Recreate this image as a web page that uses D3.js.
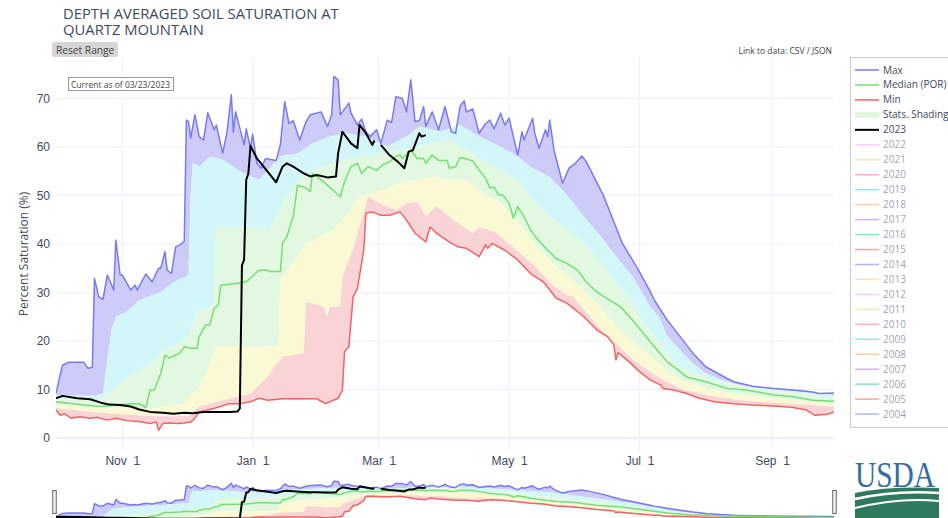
<!DOCTYPE html>
<html>
<head>
<meta charset="utf-8">
<script src="https://d3js.org/d3.v7.min.js"></script>
<style>
  body { margin: 0; background: #fff; }
  svg { display: block; font-family: "Open Sans", verdana, arial, sans-serif; }
  .xtick text { white-space: pre; }
</style>
</head>
<body>
<div id="chart"></div>
<script>
// day offsets from Oct 1 2022 (water year start), value = % saturation
const maxSeries = [[0,9.2],[3,15.0],[6,15.6],[13,15.6],[15,14.4],[17,14.6],[18,32.9],[20,29.1],[22,28.6],[24,33.6],[27,30.5],[28,40.8],[30,33.6],[31,33.6],[35,30.5],[37,31.5],[38,30.5],[42,33.8],[45,32.2],[48,35.0],[49,35.0],[51,38.4],[52,34.6],[54,33.9],[56,39.4],[58,39.8],[60,40.5],[61,65.5],[62,65.2],[63,61.8],[65,66.6],[67,62.1],[69,61.4],[71,67.0],[74,63.5],[75,64.5],[78,58.7],[80,63.0],[82,70.7],[83,63.0],[84,67.2],[86,63.9],[88,60.4],[89,63.7],[91,59.7],[92,62.6],[94,56.6],[96,55.6],[98,57.6],[103,57.2],[105,60.5],[107,69.3],[109,64.8],[111,65.4],[114,61.4],[117,65.2],[119,66.6],[124,67.2],[127,64.2],[129,66.6],[130,74.5],[132,73.8],[133,66.6],[134,67.2],[137,69.0],[138,67.0],[141,64.5],[143,65.7],[145,63.1],[147,62.1],[150,63.5],[152,60.7],[155,65.5],[157,65.0],[159,70.3],[162,70.0],[164,67.2],[166,73.8],[168,65.2],[170,65.4],[172,68.3],[173,64.2],[176,67.2],[179,63.5],[182,68.3],[185,63.1],[187,62.8],[189,68.3],[191,69.5],[192,67.2],[195,67.8],[198,62.8],[201,64.8],[203,65.5],[205,63.7],[208,66.9],[210,64.5],[212,65.9],[216,58.3],[218,63.1],[219,61.4],[223,65.9],[224,62.8],[226,59.7],[229,63.5],[230,62.0],[231,65.5],[233,59.3],[237,52.5],[240,55.6],[243,56.6],[246,58.1],[248,57.0],[256,50.1],[265,40.1],[272,35.0],[278,30.2],[280,28.4],[286,24.3],[292,20.9],[298,17.5],[304,14.7],[311,13.0],[317,11.6],[326,10.7],[336,10.2],[345,9.9],[354,9.5],[357,9.2],[364,9.3]];

const p90Series = [[0,8.8],[18,8.7],[22,9.2],[24,16],[26,22.3],[28,25],[33,26],[39,28.4],[49,30.1],[57,32.6],[62,33.5],[63,50],[64,56.6],[67,55.9],[72,58],[78,57.3],[85,55.2],[91,53.9],[95,53.2],[105,58],[113,58.7],[120,60.7],[128,62.1],[136,62.8],[145,62.1],[155,60],[164,62.1],[170,64.2],[180,63.1],[189,64.5],[198,62.1],[208,60],[216,58],[222,55.9],[231,53.8],[239,50.1],[247,45.6],[255,41.5],[262,37.4],[270,33.2],[278,27],[282,25],[286,21],[292,18.1],[298,15.4],[304,13.3],[311,12],[320,10.9],[336,10],[364,8.9]];

const p70Series = [[0,8.0],[20,7.8],[22,8.5],[28,10.6],[36,13],[44,15.4],[50,18],[56,19],[62,21],[66,26],[74,27.5],[75,43.5],[90,43.5],[100,43],[106,48.4],[114,53.2],[122,55.5],[130,56.6],[138,57.6],[153,58.7],[169,60],[184,61.4],[192,59.3],[200,57],[208,55.2],[216,53.2],[223,49],[231,45.6],[239,42.9],[247,40.1],[255,36],[262,31.9],[270,27.8],[274,24.3],[280,20.9],[286,17.5],[292,14.7],[301,13],[311,11.6],[323,10.6],[336,9.7],[364,8.5]];

const medianSeries = [[0,7.5],[13,6.8],[21,6.5],[28,6.8],[35,7.1],[39,7.1],[42,6.3],[44,9.9],[46,9.9],[49,13.3],[51,17.1],[53,16.5],[58,17.5],[60,18.8],[63,18.5],[66,18.5],[67,20.9],[70,23.3],[72,23.3],[74,26.7],[76,27.5],[77,31.5],[85,31.9],[89,32.2],[95,34.6],[99,34.6],[100,34.3],[105,34.3],[106,40.1],[108,41.5],[111,45.6],[113,52.1],[117,51.5],[119,50.8],[120,54.5],[122,53.9],[127,52.1],[133,49.7],[135,52.8],[138,55.9],[141,56.6],[143,54.5],[146,55.9],[150,55.2],[153,56.3],[156,56.9],[159,58.0],[161,58.3],[162,57.6],[166,59.3],[169,57.6],[172,57.6],[173,56.6],[176,58.3],[179,57.2],[183,57.2],[184,55.6],[187,55.9],[189,57.8],[191,57.6],[195,57.1],[198,55.2],[201,53.5],[203,51.5],[205,51.7],[207,50.1],[209,50.1],[212,48.4],[214,45.3],[216,47.7],[219,45.6],[222,42.9],[225,41.1],[230,38.7],[234,37.0],[239,36.0],[244,34.6],[248,32.2],[253,30.1],[259,28.4],[264,27.1],[269,24.7],[274,22.0],[280,18.8],[286,15.7],[292,13.7],[295,12.6],[304,11.6],[314,10.2],[323,9.9],[336,8.9],[345,8.5],[354,7.8],[364,7.6]];

const p30Series = [[0,6.8],[20,6.2],[44,6.0],[60,7.1],[67,10.6],[72,15.4],[75,18.8],[95,18.8],[104,19],[105,32.6],[117,40.1],[124,41.5],[130,42.9],[138,47],[142,49.7],[153,51.1],[161,52.5],[169,53.2],[177,53.8],[184,53.2],[192,53.2],[200,50.4],[208,48.4],[212,46.5],[216,44.5],[223,40.5],[231,36.5],[239,33.5],[247,30.5],[255,26.8],[262,23],[270,19.8],[278,17],[283,15],[286,13.8],[292,12],[304,10.2],[320,8.9],[336,8.2],[364,7.1]];

const p10Series = [[0,6.2],[20,5.2],[45,4.5],[62,4.5],[67,6.5],[80,8],[91,9.2],[99,12.6],[106,16.8],[116,17.5],[117,28.1],[125,27.1],[127,25],[128,27],[133,27.1],[134,33.2],[139,39],[142,43.5],[146,49.7],[153,48],[159,47],[164,48.4],[169,48.7],[173,45.6],[178,47.7],[186,44.9],[195,42.2],[198,43.5],[205,42.5],[208,41.5],[217,38.1],[224,35.5],[231,32],[239,29.5],[242,29.1],[247,26.4],[254,22.9],[262,19.5],[270,16.1],[278,13.7],[283,12.3],[292,10.2],[304,8.9],[320,7.8],[336,7.3],[364,6.5]];

const minSeries = [[0,5.8],[2,4.7],[4,5.0],[7,4.1],[11,4.4],[16,4.1],[19,4.3],[24,3.7],[28,4.1],[33,3.6],[39,3.4],[44,3.0],[47,3.3],[48,1.6],[50,3.0],[53,3.1],[57,3.0],[60,3.1],[63,3.3],[65,4.1],[67,5.4],[72,5.9],[77,6.5],[81,7.1],[86,7.1],[91,7.5],[95,8.2],[99,7.8],[106,8.1],[114,8.1],[122,8.1],[126,7.1],[132,8.2],[134,9.9],[135,17.8],[137,18.8],[139,29.1],[141,30.8],[144,38.7],[145,46.3],[148,46.6],[152,45.9],[156,45.9],[161,46.6],[164,44.9],[168,42.2],[173,40.4],[175,43.5],[178,42.2],[184,40.4],[188,39.4],[192,39.1],[198,37.4],[201,39.8],[202,39.1],[204,40.1],[210,38.7],[216,36.7],[222,33.9],[228,32.2],[234,28.8],[239,27.8],[247,25.0],[253,22.3],[258,20.9],[261,19.2],[262,16.1],[263,17.6],[269,15.4],[273,13.7],[278,12.0],[283,10.9],[284,10.2],[289,9.9],[295,9.2],[301,8.2],[308,7.5],[317,7.1],[326,6.8],[336,6.6],[345,6.3],[351,5.8],[355,4.7],[361,4.9],[364,5.4]];

// current water year, null = missing day
const wy2023 = [[0,8.2],[3,8.7],[10,8.2],[16,8.0],[21,7.3],[25,6.9],[30,6.8],[35,6.5],[39,5.9],[44,5.4],[50,5.2],[55,5.0],[60,5.2],[64,5.1],[69,5.4],[75,5.4],[81,5.4],[85,5.5],[86,6.1],[87,35.6],[88,36.7],[89,53.2],[90,54.5],[91,60.2],[94,57.6],[99,54.9],[103,52.7],[106,55.9],[108,56.6],[111,55.9],[116,54.5],[119,53.9],[122,54.2],[127,53.7],[131,53.9],[132,58.7],[134,63.1],[138,60.7],[141,59.7],[142,64.5],[145,62.8],[148,60.4],[149,61.3],[150,null],[152,60.4],[156,58.3],[160,56.9],[163,55.6],[165,59.0],[167,59.3],[170,62.8],[171,62.1],[173,62.4]];

const yTicks = [0, 10, 20, 30, 40, 50, 60, 70];
const titleLines = ["DEPTH AVERAGED SOIL SATURATION AT", "QUARTZ MOUNTAIN"];
const statNames = ["Max", "Median (POR)", "Min", "Stats. Shading", "2023"];
const pastYears = ["2022","2021","2020","2019","2018","2017","2016","2015","2014","2013","2012","2011","2010","2009","2008","2007","2006","2005","2004"];
const pastYearColors = ["#FF97FF","#B6E880","#FF6692","#19d3f3","#FFA15A","#ab63fa","#00cc96","#EF553B","#636efa","#FECB52","#FF97FF","#B6E880","#FF6692","#19d3f3","#FFA15A","#ab63fa","#00cc96","#EF553B","#636efa"];

const width = 948, height = 518;
const fontColor = "#3f4a5c";
const maxColor = "#7a7aee", medColor = "#74df74", minColor = "#f06464";
const bandColors = ["#cdccf9", "#d3f7f9", "#e3f8e1", "#fbf9d4", "#f9d3d5"];

const dayToDate = d => new Date(2022, 9, 1 + d);

const svg = d3.select("#chart").append("svg")
  .attr("width", width)
  .attr("height", height);

const x = d3.scaleTime()
  .domain([dayToDate(0), dayToDate(364)])
  .range([56, 834]);
const y = d3.scaleLinear().domain([-2.76, 78.5]).range([451.5, 57]);
const ySlider = d3.scaleLinear().domain([-2.76, 78.5]).range([523, 479]);

// title, two lines in one text element
svg.append("text").attr("y", 18.5)
  .attr("font-size", 14.8).attr("fill", fontColor)
  .selectAll("tspan").data(titleLines).enter().append("tspan")
  .attr("x", 63).attr("dy", (d, i) => i === 0 ? 0 : 16.5)
  .text(d => d);

// reset range button
svg.append("rect").attr("x", 52).attr("y", 42).attr("width", 66).attr("height", 15)
  .attr("rx", 2).attr("fill", "#d6d6d6");
svg.append("text").attr("x", 56).attr("y", 53.5)
  .attr("font-size", 10.2).attr("fill", "#444")
  .text("Reset Range");

// link text
svg.append("text").attr("x", 832).attr("y", 54)
  .attr("text-anchor", "end").attr("font-size", 8.5).attr("fill", "#444")
  .text("Link to data: CSV / JSON");

// gridlines
const grid = svg.append("g");
grid.selectAll(".hgrid").data(yTicks).enter().append("line")
  .attr("x1", 56).attr("x2", 834)
  .attr("y1", d => y(d)).attr("y2", d => y(d))
  .attr("stroke", "#EBF0F8").attr("stroke-width", d => d === 0 ? 2 : 1);
const monthTicks = x.ticks(d3.timeMonth.every(2));
grid.selectAll(".vgrid").data(monthTicks).enter().append("line")
  .attr("x1", d => x(d)).attr("x2", d => x(d))
  .attr("y1", 57).attr("y2", 451.5)
  .attr("stroke", "#EBF0F8");

// clip regions for main plot and range slider
const defs = svg.append("defs");
defs.append("clipPath").attr("id", "clipMain").append("rect")
  .attr("x", 56).attr("y", 57).attr("width", 778).attr("height", 394.5);
defs.append("clipPath").attr("id", "clipSlider").append("rect")
  .attr("x", 56).attr("y", 479).attr("width", 778).attr("height", 44);

function toPts(series, yS) {
  return series.map(p => [x(dayToDate(p[0])), p[1] == null ? null : yS(p[1])]);
}

function bandPath(upper, lower, yS) {
  const pts = toPts(upper, yS).concat(toPts(lower, yS).reverse());
  return d3.line()(pts) + "Z";
}

function drawTraces(g, yS) {
  const bands = [[maxSeries, p90Series], [p90Series, p70Series], [p70Series, p30Series],
                 [p30Series, p10Series], [p10Series, minSeries]];
  g.selectAll(".band").data(bands).enter().append("path")
    .attr("d", b => bandPath(b[0], b[1], yS))
    .attr("fill", (b, i) => bandColors[i]);

  const line = d3.line().defined(d => d[1] != null);
  const lines = [
    { s: maxSeries, c: maxColor, w: 1.5 },
    { s: medianSeries, c: medColor, w: 1.5 },
    { s: minSeries, c: minColor, w: 1.5 },
    { s: wy2023, c: "#000", w: 2 }
  ];
  g.selectAll(".trace").data(lines).enter().append("path")
    .attr("d", d => line(toPts(d.s, yS)))
    .attr("fill", "none")
    .attr("stroke", d => d.c)
    .attr("stroke-width", d => d.w)
    .attr("stroke-linejoin", "round");
}

drawTraces(svg.append("g").attr("clip-path", "url(#clipMain)"), y);
drawTraces(svg.append("g").attr("clip-path", "url(#clipSlider)"), ySlider);

// range slider grabbers
svg.selectAll(".grab").data([54.5, 834.5]).enter().append("rect")
  .attr("x", d => d - 1.75).attr("y", 490.5)
  .attr("width", 3.5).attr("height", 23)
  .attr("fill", "#f4f4f4").attr("stroke", "#666").attr("stroke-width", 1);

// axes
const xAxis = svg.append("g").attr("class", "xtick")
  .attr("transform", "translate(0,451.5)")
  .call(d3.axisBottom(x).tickValues(monthTicks)
    .tickFormat(d3.timeFormat("%b %e")).tickSize(0).tickPadding(5));
xAxis.select(".domain").remove();
xAxis.selectAll("text").attr("font-size", 12).attr("fill", fontColor)
  .attr("font-family", null);

const yAxis = svg.append("g")
  .attr("transform", "translate(56,0)")
  .call(d3.axisLeft(y).tickValues(yTicks).tickSize(0).tickPadding(6));
yAxis.select(".domain").remove();
yAxis.selectAll("text").attr("font-size", 12).attr("fill", fontColor)
  .attr("font-family", null);

svg.append("text")
  .attr("transform", "translate(28,254) rotate(-90)")
  .attr("text-anchor", "middle")
  .attr("font-size", 12).attr("fill", fontColor)
  .text("Percent Saturation (%)");

// current-as-of annotation
svg.append("rect").attr("x", 68.5).attr("y", 77.5).attr("width", 105).attr("height", 13)
  .attr("fill", "#fff").attr("stroke", "#999");
svg.append("text").attr("x", 71).attr("y", 87.5)
  .attr("font-size", 8.5).attr("fill", "#444")
  .text("Current as of 03/23/2023");

// legend
const statColors = [maxColor, medColor, minColor, "#e2f7e0", "#000"];
const legendData = statNames.map((n, i) => ({ name: n, faded: false, color: statColors[i] }))
  .concat(pastYears.map((n, i) => ({ name: n, faded: true, color: pastYearColors[i] })));

const legend = svg.append("g");
legend.append("rect").attr("x", 850.5).attr("y", 57.5)
  .attr("width", 120).attr("height", 370)
  .attr("fill", "#fff").attr("stroke", "#ccc");
const item = legend.selectAll(".item").data(legendData).enter().append("g")
  .attr("transform", (d, i) => `translate(0,${70 + i * 14.96})`)
  .attr("opacity", d => d.faded ? 0.5 : 1);
item.append("line")
  .attr("x1", 855).attr("x2", 879)
  .attr("stroke", d => d.color)
  .attr("stroke-width", d => d.name === "Stats. Shading" ? 6 : (d.name === "2023" ? 2 : 1.5));
item.append("text")
  .attr("x", 883).attr("dy", "0.35em")
  .attr("font-size", 10).attr("fill", fontColor)
  .text(d => d.name);

// USDA logo
const logo = svg.append("g");
logo.append("text")
  .attr("transform", "translate(855,487) scale(0.84,1)")
  .attr("font-family", "Liberation Serif, serif")
  .attr("font-size", 35).attr("fill", "#336ba2")
  .text("USDA");
logo.append("path")
  .attr("d", "M855,493 Q890,486 939,488 L939,518 L855,518 Z")
  .attr("fill", "#2e7a5c");
logo.append("path")
  .attr("d", "M855,499 Q895,490 939,493")
  .attr("fill", "none").attr("stroke", "#fff").attr("stroke-width", 2.5);
logo.append("path")
  .attr("d", "M855,508 Q900,497 939,501")
  .attr("fill", "none").attr("stroke", "#fff").attr("stroke-width", 2);
</script>
</body>
</html>
